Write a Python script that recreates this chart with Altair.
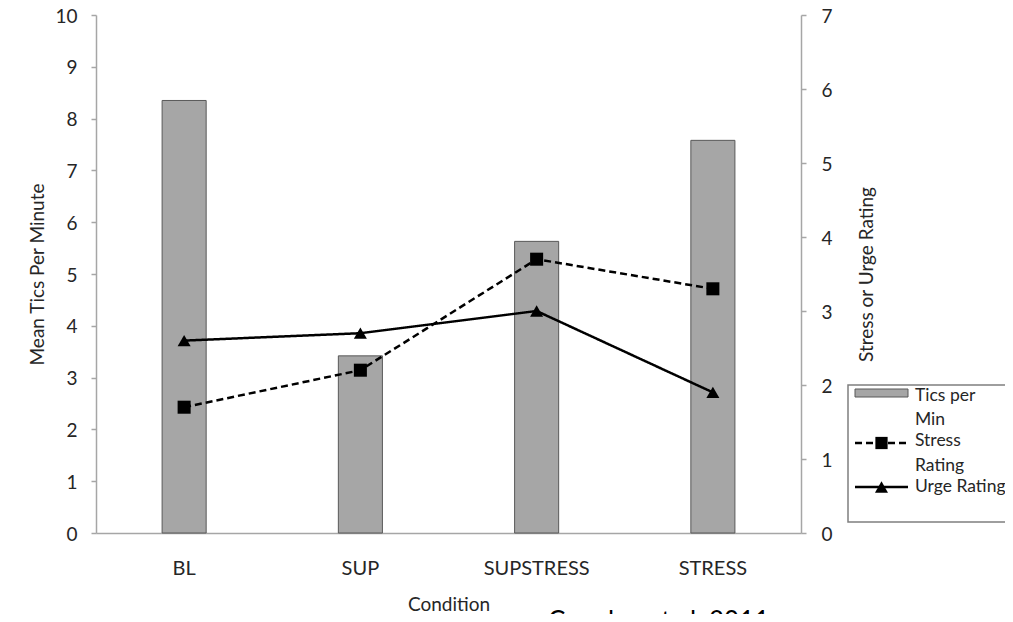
import altair as alt
import pandas as pd

# ---------------- data ----------------
conditions = ["BL", "SUP", "SUPSTRESS", "STRESS"]
tics_per_min = [8.35, 3.42, 5.63, 7.58]
stress_rating = [1.70, 2.20, 3.70, 3.30]
urge_rating = [2.60, 2.70, 3.00, 1.90]
series_names = ["Stress Rating", "Urge Rating"]
left_ticks = list(range(0, 11))
right_ticks = list(range(0, 8))
legend_bar_lines = ["Tics per", "Min"]
legend_stress_lines = ["Stress", "Rating"]
legend_urge_lines = ["Urge Rating"]
source_note = "Conelea et al. 2011"

FONT = "Lato"
W, H = 705, 518
AX_GRAY = "#a6a6a6"
TXT = "#262626"
FS = 19
LEG_FS = 17.5

bars_df = pd.DataFrame({"Condition": conditions, "Tics": tics_per_min})
lines_df = pd.DataFrame({
    "Condition": conditions * 2,
    "Series": [series_names[0]] * len(conditions) + [series_names[1]] * len(conditions),
    "Rating": stress_rating + urge_rating,
})
one = pd.DataFrame({"k": [0]})

common_axis = dict(domainColor=AX_GRAY, tickColor=AX_GRAY, domainWidth=1.5, tickWidth=1.5,
                   tickSize=5, labelFont=FONT, labelFontSize=FS, labelColor=TXT,
                   titleFont=FONT, titleFontSize=FS, titleFontWeight="normal",
                   titleColor=TXT, grid=False)

x_scale = alt.Scale(domain=conditions, paddingInner=0.75, paddingOuter=0.375)
x_axis = alt.Axis(title="Condition", ticks=False, labelAngle=0, labelPadding=25,
                  labelFontSize=20, titleY=71, titleBaseline="middle",
                  **{k: v for k, v in common_axis.items() if k != "labelFontSize"})
x_enc = alt.X("Condition:N", sort=conditions, scale=x_scale, axis=x_axis)

bars = alt.Chart(bars_df).mark_bar(color="#a6a6a6", stroke="#595959", strokeWidth=1).encode(
    x=x_enc,
    y=alt.Y("Tics:Q", scale=alt.Scale(domain=[0, 10], nice=False),
            axis=alt.Axis(values=left_ticks, title="Mean Tics Per Minute",
                          labelPadding=14, labelOffset=1, titleX=-59, titleBaseline="middle",
                          titleAngle=-90, **common_axis)),
)

y_right_scale = alt.Scale(domain=[0, 7], nice=False)
y_right_axis = alt.Axis(orient="right", values=right_ticks, title="Stress or Urge Rating",
                        labelPadding=15, labelOffset=1, titleX=65, titleBaseline="middle",
                        titleAngle=-90, **common_axis)
y_right = alt.Y("Rating:Q", scale=y_right_scale, axis=y_right_axis)

lines = alt.Chart(lines_df).mark_line(color="black", strokeWidth=2.5).encode(
    x=x_enc,
    y=y_right,
    strokeDash=alt.StrokeDash("Series:N", scale=alt.Scale(domain=series_names,
                                                          range=[[7, 4], [1, 0]]), legend=None),
    detail="Series:N",
)
points = alt.Chart(lines_df).mark_point(filled=True, color="black", opacity=1, size=170).encode(
    x=x_enc,
    y=y_right,
    shape=alt.Shape("Series:N", scale=alt.Scale(domain=series_names,
                                                range=["square", "triangle-up"]), legend=None),
)
right_layer = alt.layer(lines, points)

# ---------------- manual legend ----------------
LX0 = 752      # box left (view coords)
SW0, SW1 = 759, 812
TX = 819
base = alt.Chart(one)
legend_box = base.mark_rect(fill="white", stroke="#7f7f7f", strokeWidth=1.5).encode(
    x=alt.value(LX0), x2=alt.value(1200), y=alt.value(370), y2=alt.value(507))
swatch = base.mark_rect(fill="#a6a6a6", stroke="#595959", strokeWidth=1).encode(
    x=alt.value(SW0), x2=alt.value(SW1), y=alt.value(374), y2=alt.value(382))
stress_rule = base.mark_rule(color="black", strokeWidth=2.5, strokeDash=[7, 4]).encode(
    x=alt.value(SW0), x2=alt.value(SW1), y=alt.value(428))
stress_mark = base.mark_point(filled=True, color="black", opacity=1, shape="square", size=150).encode(
    x=alt.value((SW0 + SW1) / 2), y=alt.value(428))
urge_rule = base.mark_rule(color="black", strokeWidth=2.5).encode(
    x=alt.value(SW0), x2=alt.value(SW1), y=alt.value(472))
urge_mark = base.mark_point(filled=True, color="black", opacity=1, shape="triangle-up", size=170).encode(
    x=alt.value((SW0 + SW1) / 2), y=alt.value(472))

def ltext(s, y):
    return base.mark_text(align="left", baseline="middle", font=FONT, fontSize=LEG_FS,
                          color=TXT, text=s).encode(x=alt.value(TX), y=alt.value(y))

legend_texts = [
    ltext(legend_bar_lines[0], 381), ltext(legend_bar_lines[1], 405),
    ltext(legend_stress_lines[0], 426), ltext(legend_stress_lines[1], 451),
    ltext(legend_urge_lines[0], 472),
]

note = base.mark_text(align="left", baseline="top", font=FONT, fontSize=26,
                      color="black", text=source_note).encode(x=alt.value(452), y=alt.value(594))

chart = alt.layer(
    bars, right_layer, legend_box, swatch, stress_rule, stress_mark, urge_rule, urge_mark,
    *legend_texts, note,
).resolve_scale(y="independent").properties(
    width=W, height=H,
    autosize=alt.AutoSizeParams(type="none"),
    padding={"left": 88, "top": 7, "right": 204, "bottom": 81},
).configure_view(stroke=None)

chart.save("out.html", embed_options={"renderer": "svg", "actions": False})
